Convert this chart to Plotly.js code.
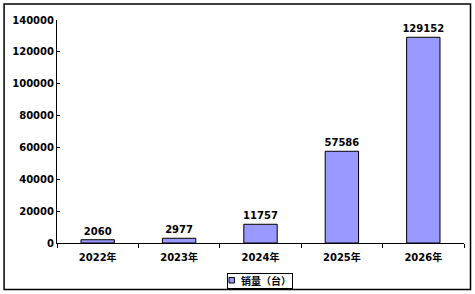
<!DOCTYPE html>
<html><head><meta charset="utf-8">
<script src="https://cdn.plot.ly/plotly-3.0.1.min.js"></script>
<style>html,body{margin:0;padding:0;background:#fff}#c{width:475px;height:294px}</style>
</head><body><div id="c"></div>
<script>
const categories = ["2022年","2023年","2024年","2025年","2026年"];
const sales = [2060, 2977, 11757, 57586, 129152];
const seriesName = "销量（台）";
const yTicks = [0,20000,40000,60000,80000,100000,120000,140000];

const font = {family: "DejaVu Sans, 'Noto Sans CJK SC', sans-serif", size: 10, color: "#000", weight: "bold"};
const barColor = "#9999FF";

const trace = {
  type: "bar", x: categories, y: sales, name: seriesName,
  marker: {color: barColor, line: {color: "#000", width: 1}},
  width: 0.41,
  text: sales.map(String), textposition: "outside", cliponaxis: false, constraintext: "none",
  textfont: font, hoverinfo: "none"
};

const layout = {
  width: 475, height: 294,
  margin: {l: 57, r: 11, t: 20, b: 51, autoexpand: false},
  paper_bgcolor: "#fff", plot_bgcolor: "#fff",
  font: font,
  showlegend: false,
  xaxis: {showline: true, linecolor: "#000", linewidth: 1, ticks: "outside", ticklen: 4,
    tickcolor: "#000", tickson: "boundaries", showgrid: false, tickfont: font, fixedrange: true,
    ticklabelstandoff: 5},
  yaxis: {range: [0, 140000], tickvals: yTicks, ticktext: yTicks.map(String),
    showline: true, linecolor: "#000", linewidth: 1, ticks: "inside", ticklen: 3,
    tickcolor: "#000", showgrid: false, zeroline: false, tickfont: font, fixedrange: true},
  annotations: [{xref: "paper", yref: "paper", x: 0.4177, y: -0.1345, xanchor: "left", yanchor: "top",
    text: seriesName, showarrow: false, font: font, width: 62, height: 12, align: "right",
    bordercolor: "#000", borderwidth: 1, borderpad: 1}],
  shapes: [
    {type: "rect", xref: "paper", yref: "paper", x0: -0.130, x1: 1.016, y0: -0.2085, y1: 1.072,
      line: {color: "#000", width: 1.5}},
    {type: "rect", xref: "paper", yref: "paper", x0: 0.4226, x1: 0.4361, y0: -0.1794, y1: -0.1547,
      fillcolor: barColor, line: {color: "#000", width: 1}, layer: "above"}
  ],
  bargap: 0.59
};
Plotly.newPlot("c", [trace], layout, {displayModeBar: false, staticPlot: true});
</script></body></html>
